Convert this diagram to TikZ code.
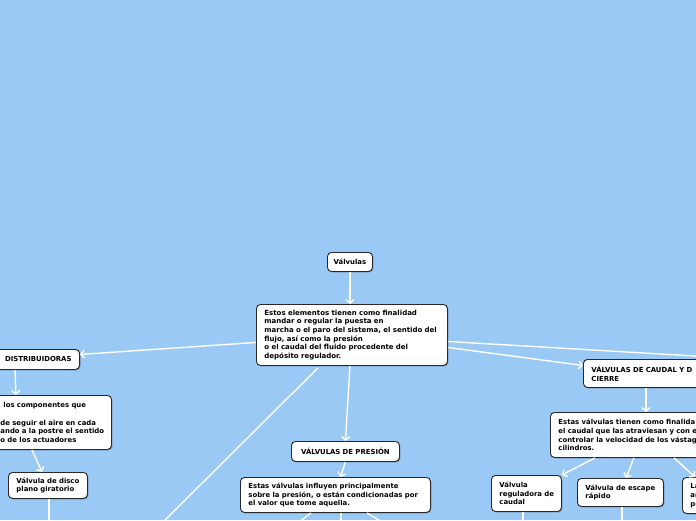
\documentclass[tikz,border=0pt]{standalone}
\usepackage{fontspec}
\setmainfont{DejaVu Sans}
\usetikzlibrary{arrows.meta,shadows}
\definecolor{bgblue}{RGB}{155,201,245}
\definecolor{boxline}{RGB}{40,40,40}
\begin{document}
\begin{tikzpicture}[x=1pt,y=-1pt,
  box/.style={draw=boxline, line width=0.9pt, fill=white, rounded corners=4pt,
    anchor=north west, inner xsep=8pt, inner ysep=0pt, align=left,
    font=\fontsize{6.9}{8.8}\selectfont\bfseries,
    execute at begin node={\hyphenpenalty=10000\exhyphenpenalty=10000},
    drop shadow={shadow xshift=0.8pt, shadow yshift=-0.8pt, opacity=0.35, fill=black}},
  link/.style={draw=white, line width=1.4pt},
  arr/.style={link, -{Straight Barb[length=3.5pt,width=8pt]}}
]
\fill[bgblue] (0,0) rectangle (696,520);
\useasboundingbox (0,0) rectangle (696,520);
\clip (0,0) rectangle (696,520);

% nodes
\node[box, inner xsep=4pt, minimum width=45pt, minimum height=19pt, align=center] (valv) at (327,252) {Válvulas};
\node[box, font=\fontsize{7}{8.7}\selectfont\bfseries, minimum width=191pt, minimum height=61pt, text width=175pt] (main) at (256,304)
 {\mbox{Estos elementos tienen como finalidad}\\mandar o regular la puesta en\\\mbox{marcha o el paro del sistema, el sentido del}\\flujo, así como la presión\\\mbox{o el caudal del fluido procedente del}\\depósito regulador.};
\node[box, anchor=north east, minimum height=20pt, text width=100pt, align=right] (distr) at (80,349) {DISTRIBUIDORAS};
\node[box, minimum width=119pt, minimum height=54pt, text width=103pt] (ddesc) at (-8,395)
 {\hspace*{3pt}los componentes que\\[8.8pt]\mbox{de seguir el aire en cada}\\\mbox{ando a la postre el sentido}\\o de los actuadores};
\node[box, minimum width=79pt, minimum height=26pt, text width=63pt] (disco) at (8,472) {\mbox{Válvula de disco}\\plano giratorio};
\node[box, minimum width=108pt, minimum height=20pt, text width=92pt, align=center] (presion) at (291,441) {VÁLVULAS DE PRESIÓN};
\node[box, minimum width=190pt, minimum height=35pt, text width=174pt] (pdesc) at (240,477)
 {\mbox{Estas válvulas influyen principalmente}\\\mbox{sobre la presión, o están condicionadas por}\\el valor que tome aquella.};
\node[box, minimum width=180pt, minimum height=28pt, text width=164pt] (caudal) at (583,359) {VÁLVULAS DE CAUDAL Y D\\CIERRE};
\node[box, minimum width=200pt, minimum height=45pt, text width=184pt] (cdesc) at (550,412)
 {Estas válvulas tienen como finalida\\el caudal que las atraviesan y con e\\controlar la velocidad de los vástag\\cilindros.};
\node[box, minimum width=70pt, minimum height=36pt, text width=54pt] (reg) at (491,475) {Válvula\\\mbox{reguladora de}\\caudal};
\node[box, minimum width=86pt, minimum height=28pt, text width=70pt] (esc) at (577,478) {\mbox{Válvula de escape}\\rápido};
\node[box, minimum width=80pt, minimum height=36pt, text width=64pt] (la) at (682,477) {La\\ar\\pr};

% free ends
\coordinate (offD) at (49,525);
\coordinate (offBL) at (160,525);
\coordinate (offP1) at (295,525);
\coordinate (offP2) at (341,525);
\coordinate (offP3) at (387,525);
\coordinate (offR) at (720,357.5);
\coordinate (offRg) at (523,525);
\coordinate (offE) at (622,525);

% connectors
\draw[arr] (valv.south) -- (valv.south |- main.north);
\draw[arr] ([yshift=-7.5pt]main.west) -- ([yshift=5pt]distr.east);
\draw[arr] ([xshift=-65pt]distr.south east) -- ([xshift=-96pt]ddesc.north east);
\draw[arr] ([xshift=-80pt]ddesc.south east) -- ([xshift=34pt]disco.north west);
\draw[link] ([xshift=41pt]disco.south west) -- (offD);
\draw[arr] ([xshift=-2pt]main.south) -- (presion.north);
\draw[link] ([xshift=62pt,yshift=-2pt]main.south west) -- (offBL);
\draw[arr] (presion.south) -- ([xshift=5pt]pdesc.north);
\draw[link] ([xshift=71pt]pdesc.south west) -- (offP1);
\draw[link] ([xshift=101pt]pdesc.south west) -- (offP2);
\draw[link] ([xshift=127pt]pdesc.south west) -- (offP3);
\draw[link] ([yshift=-6.5pt]main.east) -- (offR);
\draw[arr] ([yshift=-12.5pt]main.east) -- ([yshift=8pt]caudal.west);
\draw[arr] ([xshift=63pt]caudal.south west) -- ([xshift=96pt]cdesc.north west);
\draw[arr] ([xshift=45pt]cdesc.south west) -- (reg.north east);
\draw[arr] ([xshift=84pt]cdesc.south west) -- ([xshift=49pt]esc.north west);
\draw[arr] ([xshift=124pt]cdesc.south west) -- ([xshift=13pt]la.north west);
\draw[link] ([xshift=32pt]reg.south west) -- (offRg);
\draw[link] ([xshift=45pt]esc.south west) -- (offE);
\end{tikzpicture}
\end{document}
